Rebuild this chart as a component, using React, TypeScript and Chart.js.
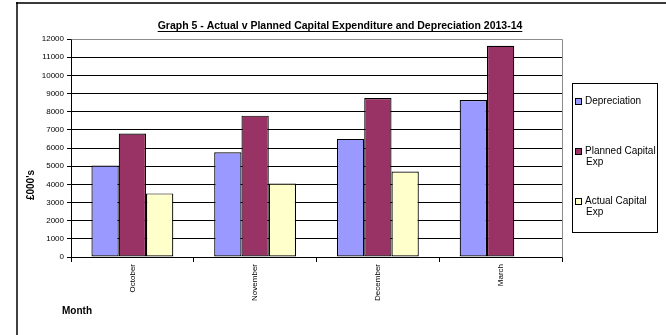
import React, { useEffect, useRef } from "react";
import { Chart, registerables } from "chart.js";

Chart.register(...registerables);

// Monthly figures in £000's
const months: string[] = ["October", "November", "December", "March"];
const depreciation: (number | null)[] = [5030, 5760, 6500, 8640];
const plannedCapitalExp: (number | null)[] = [6800, 7780, 8750, 11630];
const actualCapitalExp: (number | null)[] = [3500, 4050, 4700, null];

const seriesLabels: string[] = ["Depreciation", "Planned Capital Exp", "Actual Capital Exp"];
const seriesColors: string[] = ["#9999FF", "#993366", "#FFFFCC"];

const yTickMax = 12000;
const yTickStep = 1000;

const chartTitle = "Graph 5 - Actual v Planned Capital Expenditure and Depreciation 2013-14";
const yAxisTitle = "£000's";
const xAxisTitle = "Month";

const FONT = "'Liberation Sans', Arial, sans-serif";

// Frame, title, axis titles, plot border and the boxed legend
const decorPlugin = {
  id: "decor",
  beforeDraw(chart: any) {
    const { ctx, width, height } = chart;
    ctx.save();
    ctx.fillStyle = "#ffffff";
    ctx.fillRect(0, 0, width, height);
    // outer frame (top and left edges)
    ctx.strokeStyle = "#3a3a3a";
    ctx.lineWidth = 2;
    ctx.beginPath();
    ctx.moveTo(16, 3);
    ctx.lineTo(width, 3);
    ctx.stroke();
    ctx.strokeStyle = "#000000";
    ctx.lineWidth = 1.5;
    ctx.beginPath();
    ctx.moveTo(17, 2);
    ctx.lineTo(17, height);
    ctx.stroke();
    ctx.restore();
  },
  afterDraw(chart: any) {
    const { ctx, chartArea } = chart;
    ctx.save();

    // plot area border (top and right), grey
    ctx.strokeStyle = "#8c8c8c";
    ctx.lineWidth = 1;
    ctx.beginPath();
    ctx.moveTo(Math.round(chartArea.left) + 0.5, Math.round(chartArea.top) + 0.5);
    ctx.lineTo(Math.round(chartArea.right) + 0.5, Math.round(chartArea.top) + 0.5);
    ctx.lineTo(Math.round(chartArea.right) + 0.5, Math.round(chartArea.bottom) + 0.5);
    ctx.stroke();

    // title, bold and underlined
    ctx.fillStyle = "#000000";
    ctx.font = `bold 10.5px ${FONT}`;
    ctx.textAlign = "center";
    ctx.textBaseline = "alphabetic";
    const tx = 340;
    const ty = 29;
    ctx.fillText(chartTitle, tx, ty);
    const tw = ctx.measureText(chartTitle).width;
    ctx.strokeStyle = "#000000";
    ctx.lineWidth = 1;
    ctx.beginPath();
    ctx.moveTo(tx - tw / 2, ty + 2.5);
    ctx.lineTo(tx + tw / 2, ty + 2.5);
    ctx.stroke();

    // y axis title
    ctx.save();
    ctx.translate(31, 185);
    ctx.rotate(-Math.PI / 2);
    ctx.textAlign = "center";
    ctx.textBaseline = "middle";
    ctx.font = `bold 10px ${FONT}`;
    ctx.fillText(yAxisTitle, 0, 0);
    ctx.restore();

    // x axis title
    ctx.textAlign = "left";
    ctx.textBaseline = "middle";
    ctx.font = `bold 10px ${FONT}`;
    ctx.fillText(xAxisTitle, 62, 311);

    // legend box
    const box = { x: 572, y: 83, w: 85, h: 149 };
    ctx.strokeStyle = "#000000";
    ctx.lineWidth = 1;
    ctx.strokeRect(box.x + 0.5, box.y + 0.5, box.w, box.h);
    ctx.font = `10px ${FONT}`;
    ctx.textBaseline = "middle";
    const textX = 585;
    const maxW = box.x + box.w - textX - 1;
    const lineH = 11.5;
    chart.data.datasets.forEach((ds: any, i: number) => {
      const y0 = 101 + i * 50;
      // marker
      ctx.fillStyle = ds.backgroundColor;
      ctx.fillRect(575, y0 - 3, 7, 7);
      ctx.strokeStyle = "#000000";
      ctx.strokeRect(575.5, y0 - 2.5, 6, 6);
      // wrapped text
      const words = String(ds.label).split(" ");
      const lines: string[] = [];
      let cur = "";
      words.forEach((w) => {
        const test = cur ? cur + " " + w : w;
        if (ctx.measureText(test).width > maxW && cur) {
          lines.push(cur);
          cur = w;
        } else {
          cur = test;
        }
      });
      if (cur) lines.push(cur);
      ctx.fillStyle = "#000000";
      lines.forEach((ln, j) => {
        ctx.fillText(ln, j === 0 ? textX : textX + 1, y0 + j * lineH);
      });
    });

    ctx.restore();
  },
};

export default function App() {
  const canvasRef = useRef<HTMLCanvasElement | null>(null);

  useEffect(() => {
    if (!canvasRef.current) return;
    const datasets = [depreciation, plannedCapitalExp, actualCapitalExp].map((d, i) => ({
      label: seriesLabels[i],
      data: d,
      backgroundColor: seriesColors[i],
      borderColor: "#000000",
      borderWidth: 1.2,
      borderSkipped: false as const,
      categoryPercentage: 0.667,
      barPercentage: 1,
    }));

    const chart = new Chart(canvasRef.current, {
      type: "bar",
      data: { labels: months, datasets },
      plugins: [decorPlugin],
      options: {
        animation: false,
        responsive: false,
        devicePixelRatio: 1,
        layout: { padding: { top: 39, right: 104, bottom: 0, left: 0 } },
        plugins: {
          legend: { display: false },
          title: { display: false },
          tooltip: { enabled: false },
        },
        scales: {
          x: {
            offset: true,
            grid: {
              offset: true,
              drawOnChartArea: false,
              drawTicks: true,
              tickLength: 5,
              tickColor: "#000000",
            },
            border: { display: true, color: "#000000", width: 1 },
            ticks: {
              autoSkip: false,
              maxRotation: 90,
              minRotation: 90,
              padding: 2,
              color: "#000000",
              font: { family: FONT, size: 8 },
            },
            afterFit: (scale: any) => {
              scale.height = 78;
            },
          },
          y: {
            min: 0,
            max: yTickMax,
            ticks: {
              stepSize: yTickStep,
              padding: 3,
              color: "#000000",
              font: { family: FONT, size: 8 },
              callback: (v: any) => String(v),
            },
            grid: {
              color: (c: any) => (c.tick && c.tick.value === yTickMax ? "#8c8c8c" : "#000000"),
              lineWidth: 1,
              drawTicks: true,
              tickLength: 4,
              tickColor: "#000000",
            },
            border: { display: true, color: "#000000", width: 1 },
            afterFit: (scale: any) => {
              scale.width = 71;
            },
          },
        },
      },
    });
    return () => chart.destroy();
  }, []);

  return (
    <div style={{ position: "absolute", left: 0, top: 0, width: 666, height: 335 }}>
      <canvas ref={canvasRef} width={666} height={335} />
    </div>
  );
}
